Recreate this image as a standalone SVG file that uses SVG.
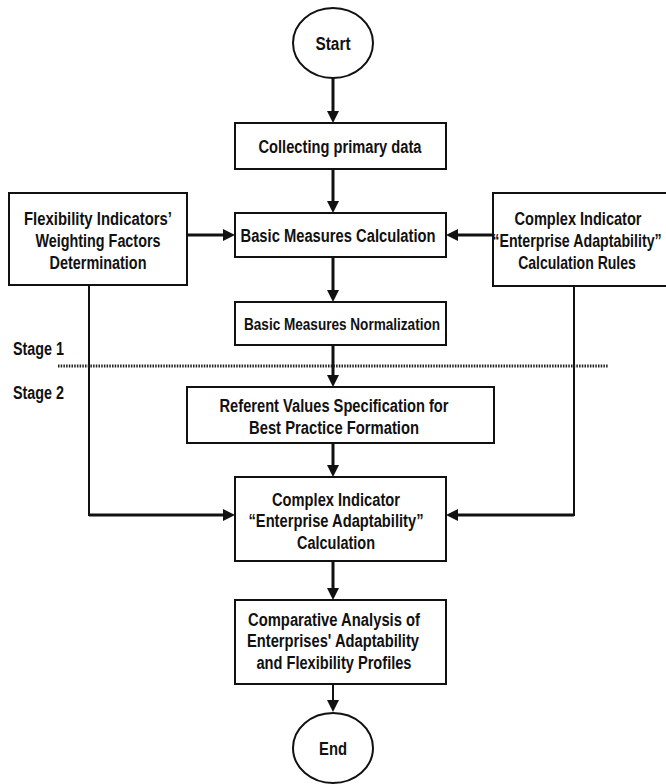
<svg xmlns="http://www.w3.org/2000/svg" width="666" height="784" viewBox="0 0 666 784">
<defs>
<style>
.box{fill:#fff;stroke:#111;stroke-width:2}
.t{font-family:"Liberation Sans Narrow","Liberation Sans",Arial,sans-serif;font-weight:bold;font-size:18px;fill:#111;text-anchor:middle}
.w{font-family:"Liberation Sans",Arial,sans-serif;font-weight:bold;font-size:18px;fill:#111;text-anchor:middle}
.s{font-family:"Liberation Sans Narrow","Liberation Sans",Arial,sans-serif;font-weight:bold;font-size:18px;fill:#111}
.a{fill:none;stroke:#111;stroke-width:3;marker-end:url(#ah)}
.a2{fill:none;stroke:#111;stroke-width:2;marker-end:url(#ah)}
.thin{fill:none;stroke:#111;stroke-width:2}
</style>
<marker id="ah" markerUnits="userSpaceOnUse" markerWidth="12" markerHeight="12" refX="2" refY="6" orient="auto">
<path d="M0,0 L12,6 L0,12 z" fill="#111"/>
</marker>
</defs>
<rect width="666" height="784" fill="#fff"/>

<g id="connectors">
<line class="a" x1="333" y1="78" x2="333" y2="113"/>
<line class="a" x1="333" y1="169" x2="333" y2="203"/>
<line class="a" x1="187" y1="235" x2="225" y2="235"/>
<line class="a" x1="493" y1="235" x2="456" y2="235"/>
<line class="a" x1="333" y1="257" x2="333" y2="292"/>
<line class="a" x1="333" y1="345" x2="333" y2="377"/>
<line class="a" x1="333" y1="443" x2="333" y2="467"/>
<polyline class="thin" points="89,285 89,515 140,515"/>
<line class="a" x1="89" y1="515" x2="225" y2="515"/>
<polyline class="thin" points="574,286 574,515 520,515"/>
<line class="a" x1="574" y1="515" x2="456" y2="515"/>
<line class="a" x1="333" y1="561" x2="333" y2="590"/>
<line class="a2" x1="333" y1="684" x2="333" y2="702"/>
</g>

<g id="stages">
<line x1="58" y1="366" x2="608" y2="366" stroke="#222" stroke-width="3" stroke-dasharray="1.5 1.2"/>
<text class="s" x="13" y="354.5" textLength="51" lengthAdjust="spacingAndGlyphs">Stage 1</text>
<text class="s" x="13" y="398.5" textLength="51" lengthAdjust="spacingAndGlyphs">Stage 2</text>
</g>

<g id="start">
<ellipse class="box" cx="333" cy="43" rx="40" ry="35"/>
<text class="t" x="333" y="49.5" textLength="35" lengthAdjust="spacingAndGlyphs">Start</text>
</g>

<g id="collecting">
<rect class="box" x="235" y="123" width="211" height="46"/>
<text class="t" x="340" y="152.5" textLength="163" lengthAdjust="spacingAndGlyphs">Collecting primary data</text>
</g>

<g id="calc">
<rect class="box" x="235" y="213" width="211" height="44"/>
<text class="t" x="338" y="241.5" textLength="195" lengthAdjust="spacingAndGlyphs">Basic Measures Calculation</text>
</g>

<g id="weighting">
<rect class="box" x="9" y="193" width="178" height="92"/>
<text class="t" x="98" y="224.5" textLength="148" lengthAdjust="spacingAndGlyphs">Flexibility Indicators’</text>
<text class="t" x="98" y="247" textLength="125" lengthAdjust="spacingAndGlyphs">Weighting Factors</text>
<text class="t" x="98" y="268.5" textLength="97" lengthAdjust="spacingAndGlyphs">Determination</text>
</g>

<g id="rules">
<rect x="493" y="193" width="173" height="93" fill="#fff"/>
<path d="M666,193 H493 V286 H666" fill="none" stroke="#111" stroke-width="2"/>
<text class="w" transform="translate(578,224.5) scale(0.81,1)">Complex Indicator</text>
<text class="w" transform="translate(577,247) scale(0.79,1)">“Enterprise Adaptability”</text>
<text class="w" transform="translate(577,268.5) scale(0.78,1)">Calculation Rules</text>
</g>

<g id="normalization">
<rect class="box" x="235" y="302" width="211" height="43"/>
<text class="t" x="342" y="329.5" style="font-size:16.5px" textLength="196" lengthAdjust="spacingAndGlyphs">Basic Measures Normalization</text>
</g>

<g id="referent">
<rect class="box" x="187" y="387" width="307" height="56"/>
<text class="t" x="334" y="411.5" textLength="229" lengthAdjust="spacingAndGlyphs">Referent Values Specification for</text>
<text class="t" x="334" y="433.5" textLength="170" lengthAdjust="spacingAndGlyphs">Best Practice Formation</text>
</g>

<g id="complex">
<rect class="box" x="235" y="477" width="211" height="84"/>
<text class="t" x="336" y="505.5" textLength="128" lengthAdjust="spacingAndGlyphs">Complex Indicator</text>
<text class="t" x="336" y="527" textLength="175" lengthAdjust="spacingAndGlyphs">“Enterprise Adaptability”</text>
<text class="t" x="336" y="548.5" textLength="78" lengthAdjust="spacingAndGlyphs">Calculation</text>
</g>

<g id="comparative">
<rect class="box" x="235" y="600" width="211" height="84"/>
<text class="t" x="334" y="625.5" textLength="172" lengthAdjust="spacingAndGlyphs">Comparative Analysis of</text>
<text class="t" x="333" y="647" textLength="172" lengthAdjust="spacingAndGlyphs">Enterprises' Adaptability</text>
<text class="t" x="334" y="668.5" textLength="155" lengthAdjust="spacingAndGlyphs">and Flexibility Profiles</text>
</g>

<g id="end">
<ellipse class="box" cx="333" cy="748" rx="40" ry="35"/>
<text class="t" x="333" y="755" textLength="28" lengthAdjust="spacingAndGlyphs">End</text>
</g>
</svg>
